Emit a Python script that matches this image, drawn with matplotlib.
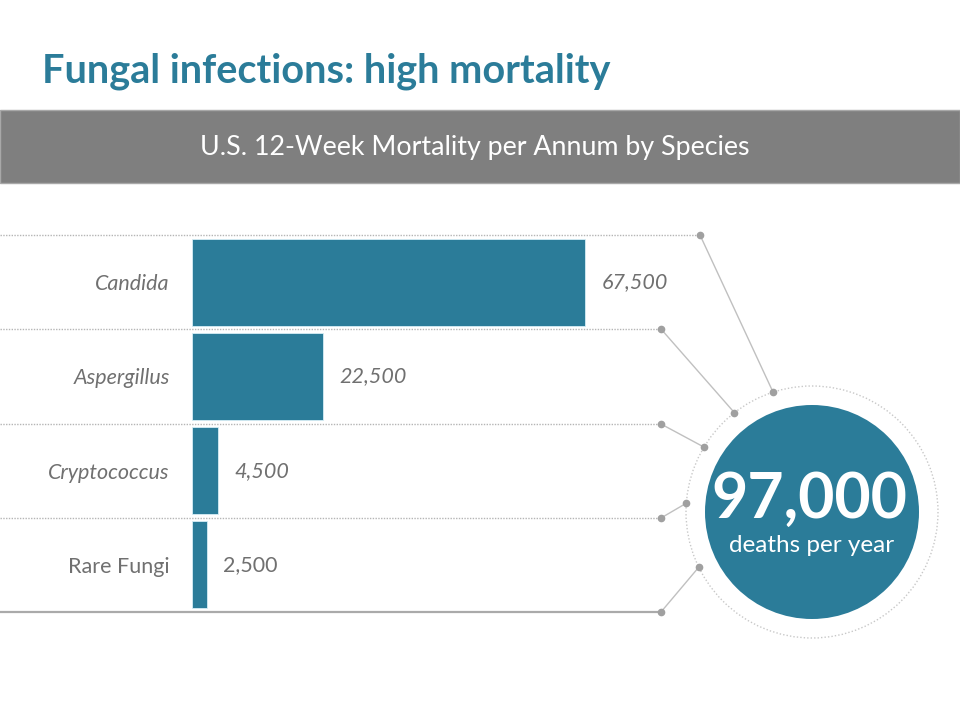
import numpy as np
import matplotlib
matplotlib.use("Agg")
import matplotlib.pyplot as plt
from matplotlib.patches import Circle, Rectangle

plt.rcParams['font.family'] = ['Lato', 'DejaVu Sans']

species = ["Candida", "Aspergillus", "Cryptococcus", "Rare Fungi"]
deaths = [67500, 22500, 4500, 2500]
italic_label = [True, True, True, False]
total_deaths = 97000

teal = "#2b7c99"
grey_text = "#707070"
line_grey = "#b5b5b5"
dot_grey = "#a0a0a0"

fig = plt.figure(figsize=(9.6, 7.2), dpi=100)

# background axes in pixel units (y down) for the decorations
bg = fig.add_axes([0, 0, 1, 1])
bg.set_xlim(0, 960)
bg.set_ylim(720, 0)
bg.axis("off")

bg.text(42, 83, "Fungal infections: high mortality", color=teal,
        fontsize=28.5, fontweight="bold", va="baseline", ha="left")

bg.add_patch(Rectangle((0, 110), 960, 73, facecolor="#7f7f7f",
                       edgecolor="#a8a8a8", linewidth=1))
bg.text(475, 155, "U.S. 12-Week Mortality per Annum by Species",
        color="white", fontsize=19.3, ha="center", va="baseline")

# row separators and connectors to the total circle
sep_y = [235, 329, 424, 518, 612]
sep_end = [700, 661, 661, 661, 661]
cx, cy, r_out, r_in = 812, 512, 126, 107
angles = [252, 232, 211, 184, 154]
for i, (yy, xe, a) in enumerate(zip(sep_y, sep_end, angles)):
    last = i == len(sep_y) - 1
    bg.plot([0, xe], [yy, yy], color="#aaaaaa" if last else line_grey,
            linewidth=1.6 if last else 1, linestyle="-" if last else (0, (1, 1)))
    px = cx + r_out * np.cos(np.radians(a))
    py = cy + r_out * np.sin(np.radians(a))
    bg.plot([xe, px], [yy, py], color="#c0c0c0", linewidth=1)
    bg.plot([xe, px], [yy, py], "o", color=dot_grey, markersize=4.5)

bg.add_patch(Circle((cx, cy), r_out, facecolor="none", edgecolor="#c8c8c8",
                    linewidth=1, linestyle=(0, (1, 1.5))))
bg.add_patch(Circle((cx, cy), r_in, facecolor=teal, edgecolor="none"))
bg.text(cx - 3, 518, f"{total_deaths:,}", color="white", fontsize=45,
        fontweight="bold", ha="center", va="baseline")
bg.text(cx, 552, "deaths per year", color="white", fontsize=17.5,
        ha="center", va="baseline")

# bar chart
ax = fig.add_axes([192 / 960, 1 - 612 / 720, 469 / 960, 377 / 720])
ax.patch.set_alpha(0)
ax.set_xlim(0, 67500 * 469 / 393)
ax.set_ylim(3.5, -0.5)
y = np.arange(len(species))
ax.barh(y, deaths, height=0.925, color=teal, edgecolor="#d6eef5", linewidth=0.6)
ax.set_yticks(y)
ax.set_yticklabels(species)
for lab, it in zip(ax.get_yticklabels(), italic_label):
    lab.set_fontstyle("italic" if it else "normal")
    lab.set_color(grey_text)
    lab.set_fontsize(15.5)
ax.tick_params(axis="y", length=0, pad=16)
ax.set_xticks([])
for s in ax.spines.values():
    s.set_visible(False)

for yi, v, it in zip(y, deaths, italic_label):
    ax.annotate(f"{v:,}", (v, yi), xytext=(12, 0), textcoords="offset points",
                ha="left", va="center", fontsize=15.5, color=grey_text,
                fontstyle="italic" if it else "normal")

fig.savefig("out.png", dpi=100)
